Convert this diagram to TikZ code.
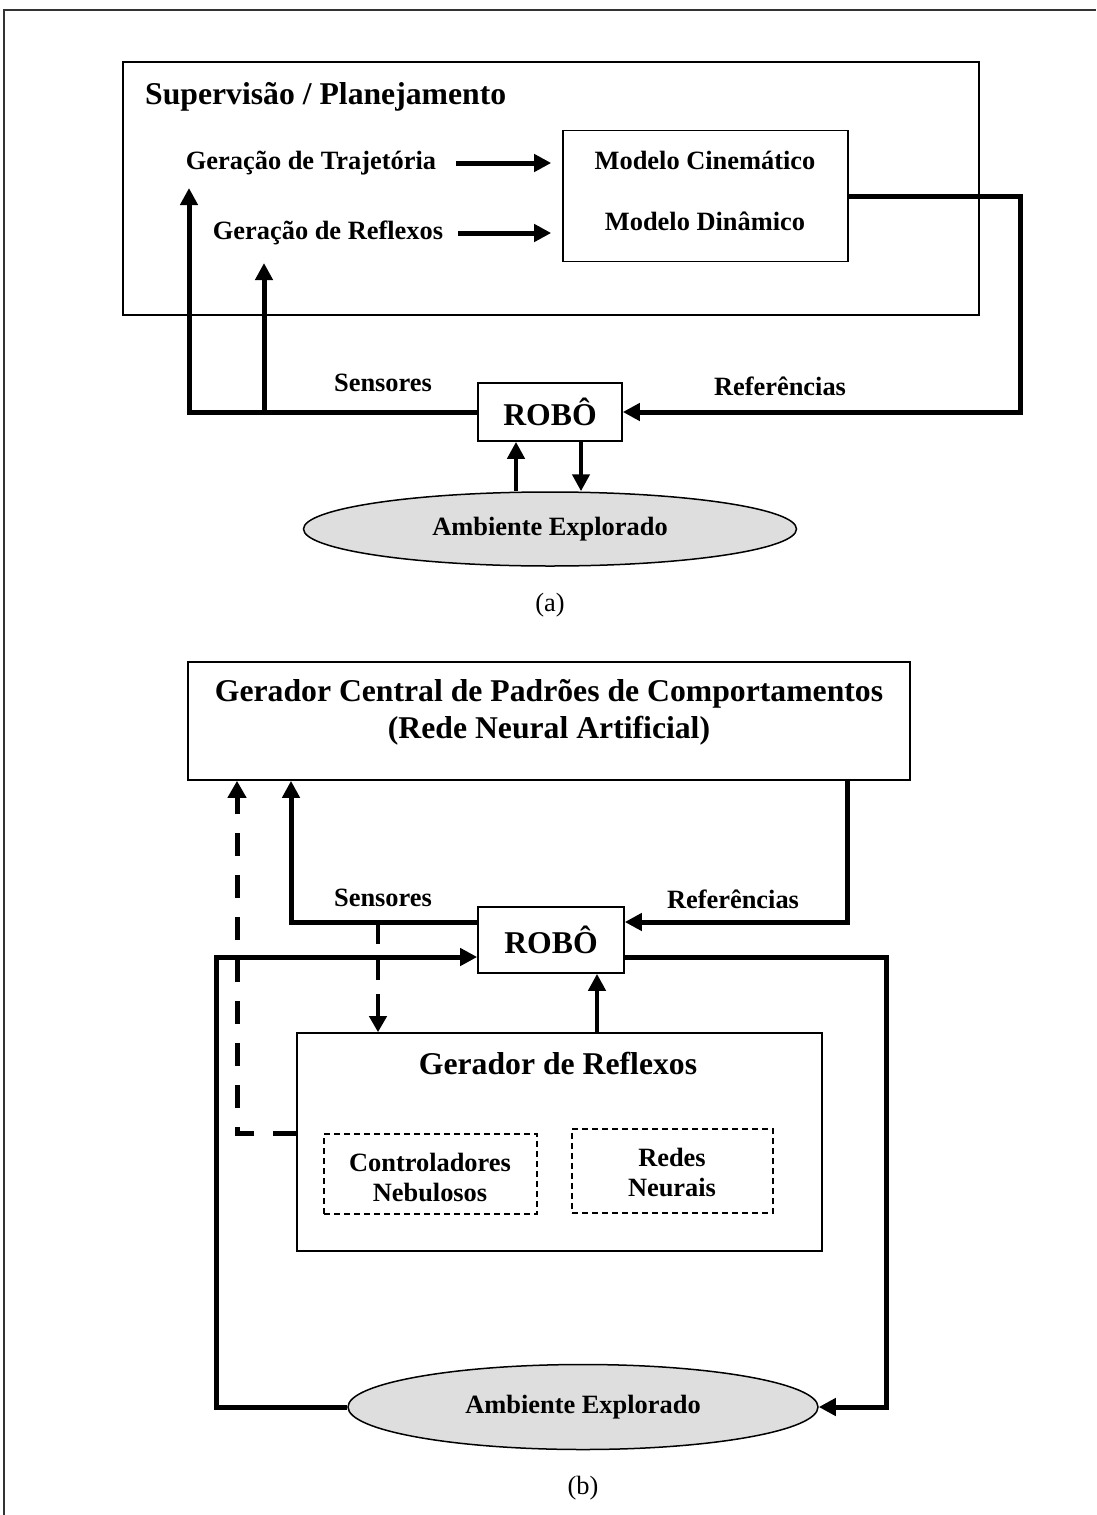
\documentclass[tikz,border=0pt]{standalone}
\usepackage{fontspec}
\setmainfont{Liberation Serif}
\usetikzlibrary{arrows.meta,shapes.geometric}
\begin{document}
\begin{tikzpicture}[x=1pt,y=-1pt,
  box/.style={draw, line width=1.6pt, inner sep=0pt},
  dbox/.style={draw, line width=1.3pt, dash pattern=on 6pt off 4pt, inner sep=0pt},
  big/.style={font=\fontsize{31.7}{37}\selectfont\bfseries, inner sep=0pt, align=center},
  lbl/.style={font=\fontsize{26.4}{30}\selectfont\bfseries, inner sep=0pt, align=center},
  captxt/.style={font=\fontsize{26.4}{30}\selectfont, inner sep=0pt},
  ambshape/.style={ellipse, draw, line width=1.5pt, fill=black!13, inner sep=0pt,
    font=\fontsize{26.4}{30}\selectfont\bfseries},
  arr/.style={line width=5pt, -{Triangle[length=17pt,width=17pt]}},
  darr/.style={line width=5pt, dash pattern=on 23pt off 19pt, -{Triangle[length=17pt,width=18pt]}},
  tarr/.style={line width=4pt, dash pattern=on 22pt off 14pt, -{Triangle[length=16pt,width=17pt]}}
]
\useasboundingbox (0,0) rectangle (1096,1515);
% outer frame
\draw[line width=2pt, black!80] (4,1515) -- (4,10) -- (1096,10);

% ---------------- panel (a) ----------------
\node[box, minimum width=856pt, minimum height=253pt] (sup) at (551,188.5) {};
\node[big, anchor=base west] (suptitle) at (145,104) {Supervisão / Planejamento};
\node[lbl] (traj) at (311,163) {Geração de Trajetória};
\node[lbl] (refl) at (328,233) {Geração de Reflexos};
\node[box, minimum width=285pt, minimum height=131pt] (mod) at (705.5,196) {};
\node[lbl] (cin) at (705,160) {Modelo Cinemático};
\node[lbl] (din) at (705,221) {Modelo Dinâmico};
\node[box, minimum width=144pt, minimum height=58pt, big] (robo) at (550,412) {ROBÔ};
\node[ambshape, minimum width=493pt, minimum height=74pt] (amba) at (550,529) {Ambiente Explorado};
\node[lbl] (sensa) at (383,383) {Sensores};
\node[lbl] (refa) at (780,386) {Referências};
\node[captxt] (capa) at (550,605) {(a)};

\coordinate (ca1) at (1020,196);
\coordinate (ca2) at (1020,412);
\coordinate (ca3) at (189,412);
\coordinate (ta) at (189,188);
\coordinate (cb) at (264,412);
\coordinate (tb) at (264,263);

\draw[arr, shorten <=20pt, shorten >=11pt] (traj.east) -- (traj -| mod.west);
\draw[arr, shorten <=15pt, shorten >=11pt] (refl.east) -- (refl -| mod.west);
\draw[arr] (mod.east) -- (ca1) -- (ca2) -- (robo.east);
\draw[arr] (robo.west) -- (ca3) -- (ta);
\draw[arr] (cb) -- (tb);
\draw[arr, line width=4.5pt] ([xshift=-34pt]amba.north) -- ([xshift=-34pt]robo.south);
\draw[arr, line width=4.5pt] ([xshift=31pt]robo.south) -- ([xshift=31pt]amba.north);

% ---------------- panel (b) ----------------
\node[box, minimum width=722pt, minimum height=118pt] (gcp) at (549,721) {};
\node[big] (gcptxt) at (549,712) {Gerador Central de Padrões de Comportamentos\\(Rede Neural Artificial)};
\node[box, minimum width=146pt, minimum height=66pt, big] (robob) at (551,940) {ROBÔ};
\node[lbl] (sensb) at (383,898) {Sensores};
\node[lbl] (refb) at (733,899) {Referências};
\node[box, minimum width=525pt, minimum height=218pt] (ger) at (559.5,1142) {};
\node[big] (gertxt) at (558,1063) {Gerador de Reflexos};
\node[dbox, minimum width=213pt, minimum height=80pt] (ctrl) at (430.5,1174) {};
\node[lbl] (ctrltxt) at (430,1177) {Controladores\\Nebulosos};
\node[dbox, minimum width=201pt, minimum height=84pt] (redes) at (672.5,1171) {};
\node[lbl] (redestxt) at (672,1172) {Redes\\Neurais};
\node[ambshape, minimum width=470pt, minimum height=85pt] (ambb) at (583,1407) {Ambiente Explorado};
\node[captxt] (capb) at (583,1488) {(b)};

\coordinate (s1) at (291,922);
\coordinate (r1) at (847,922);
\coordinate (dj) at (378,922);
\coordinate (d1) at (237,1133);
\coordinate (u) at (597,1000);
\coordinate (l1) at (216,1407);
\coordinate (l2) at (216,957);
\coordinate (rr1) at (886,957);
\coordinate (rr2) at (886,1407);

\draw[arr] (robob.west |- s1) -- (s1) -- (s1 |- gcp.south);
\draw[arr] (r1 |- gcp.south) -- (r1) -- (robob.east |- r1);
\draw[tarr] (dj) -- (dj |- ger.north);
\draw[darr] (ger.west |- d1) -- (d1) -- (d1 |- gcp.south);
\draw[arr, line width=4.5pt] (ger.north -| u) -- (robob.south -| u);
\draw[arr] (ambb.west) -- (l1) -- (l2) -- (robob.west |- l2);
\draw[arr] (robob.east |- rr1) -- (rr1) -- (rr2) -- (ambb.east);
\end{tikzpicture}
\end{document}
